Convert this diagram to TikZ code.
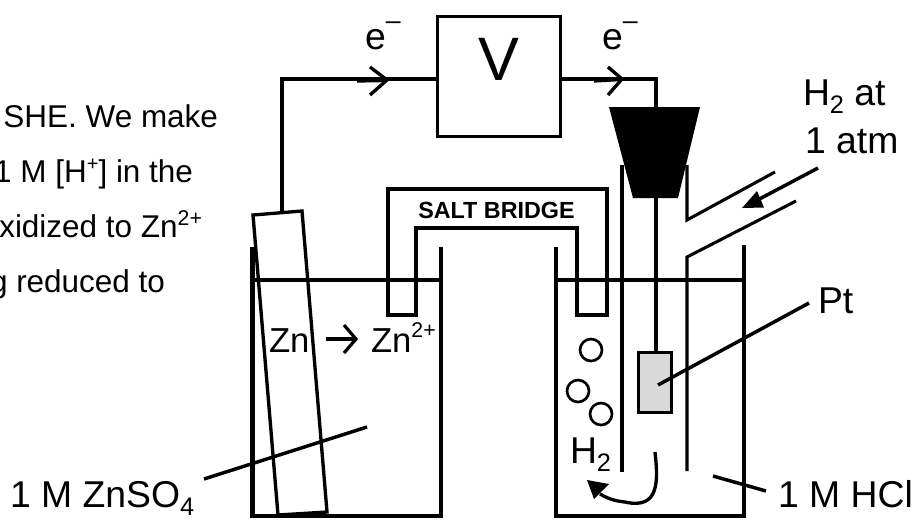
\documentclass[tikz,border=0pt]{standalone}
\usepackage{fontspec}
\setmainfont{Liberation Sans}
\usetikzlibrary{arrows.meta}
\newcommand\fsz[1]{\fontsize{#1pt}{#1pt}\selectfont}
\newcommand\lowr[1]{\raisebox{-.24em}{\fsz{19}#1}}
\newcommand\highr[1]{\raisebox{.42em}{\fsz{16}#1}}
\tikzset{
  wall/.style={line width=3.5pt,line join=miter},
  wire/.style={line width=2.5pt,line join=miter},
  tube/.style={line width=2.3pt},
  thinline/.style={line width=2.6pt},
  lbl/.style={inner sep=0pt,outer sep=0pt,anchor=base west,font=\fsz{28}},
  para/.style={inner sep=0pt,outer sep=0pt,anchor=base east,font=\fsz{23.6}},
  bubble/.style={circle,draw,line width=2pt,minimum size=16.5pt,inner sep=0pt},
  chev/.style={line width=2.5pt,line join=miter},
  voltbox/.style={draw,line width=2.6pt,minimum width=94.5pt-2.6pt,minimum height=92.25pt-2.6pt,inner sep=0pt,outer sep=0pt},
}
\begin{document}
\begin{tikzpicture}[x=0.75pt,y=-0.75pt]
\useasboundingbox (0,0) rectangle (919,519);
% left text
\node[para] (p1) at (218,127) {SHE. We make};
\node[para] (p2) at (193,182) {1 M [H\raisebox{.38em}{\fsz{15}+}] in the};
\node[para] (p3) at (202,237) {xidized to Zn\raisebox{.38em}{\fsz{16}2+}};
\node[para] (p4) at (165,292) {g reduced to};
% voltmeter
\node[voltbox] (V) at (499,76.5) {};
\node[inner sep=0pt,outer sep=0pt,anchor=base,font=\fsz{46}] (Vt) at (499,80) {V};
% wires
\coordinate (znTop) at (282,212);
\coordinate (bendL) at (282,79);
\coordinate (bendR) at (656,79);
\coordinate (stopTop) at (656,107);
\draw[wire] (znTop) -- (bendL) -- (bendL -| V.west);
\draw[wire] (bendR -| V.east) -- (bendR) -- (stopTop);
\coordinate (tipL) at (387,80);
\coordinate (tipR) at (622,79);
\draw[chev] (370,67) -- (tipL) -- (370,95);
\draw[chev] (608,67) -- (tipR) -- (608,95);
\draw[line width=3.2pt] (357,80.5) -- (tipL);
\draw[line width=3.2pt] (594,80.5) -- (tipR);
\node[lbl] (e1) at (365,49) {e\raisebox{.52em}{\fsz{20}–}};
\node[lbl] (e2) at (602,49) {e\raisebox{.52em}{\fsz{20}–}};
% left beaker
\draw[wall] (252.5,247) -- (252.5,516) -- (441,516) -- (441,247);
\draw[wall] (252.5,280) -- (441,280);
% right beaker
\draw[wall] (556,247) -- (556,516) -- (744,516) -- (744,245);
\draw[wall] (556,280) -- (744,280);
% salt bridge
\draw[wall] (388,315) -- (388,189) -- (607,189) -- (607,315) -- (577,315) -- (577,228) -- (416,228) -- (416,315) -- cycle;
\node[inner sep=0pt,outer sep=0pt,anchor=base,font=\fsz{17.5}\bfseries] (sb) at (496.5,218) {SALT BRIDGE};
% Zn electrode
\draw[wire] (253,215) -- (302,211) -- (327,512) -- (278,515) -- cycle;
\node[lbl,font=\fsz{26}] (zn) at (269,352) {Zn};
\node[lbl,font=\fsz{26}] (znp) at (371,352) {Zn\highr{2+}};
\coordinate (rxA) at (326,339);
\draw[line width=2.4pt,line join=miter] (rxA) -- (356,339);
\draw[line width=2.4pt,line join=miter] (344,325) -- (356,339) -- (344,353);
\node[lbl] (znso) at (10,507) {1 M ZnSO\lowr{4}};
\coordinate (zsA) at (204,479);
\coordinate (zsB) at (367,427);
\draw[thinline] (zsA) -- (zsB);
% hydrogen electrode
\coordinate (tubeLT) at (622,165);
\coordinate (tubeLB) at (622,472);
\coordinate (tubeRT) at (687,165);
\coordinate (neckA) at (687,220);
\coordinate (neckB) at (775,172);
\coordinate (neckC) at (796,201);
\coordinate (neckD) at (687,257);
\coordinate (tubeRB) at (687,471);
\draw[tube] (tubeLT) -- (tubeLB);
\draw[tube,line join=miter] (tubeRT) -- (neckA) -- (neckB);
\draw[tube,line join=miter] (neckC) -- (neckD) -- (tubeRB);
\fill (609,107) -- (700,107) -- (678,198) -- (633,198) -- cycle;
\node[draw,fill=black!15,line width=2pt,minimum width=27pt-2pt,minimum height=47.25pt-2pt,inner sep=0pt,outer sep=0pt] (Pt) at (655,382.5) {};
\draw[wire] (656,198) -- (Pt.north -| 656,0);
\coordinate (ptA) at (658,385);
\coordinate (ptB) at (809,303);
\draw[thinline] (ptA) -- (ptB);
\node[lbl] (ptl) at (818,313) {Pt};
% gas inlet
\coordinate (gasA) at (818,168);
\coordinate (gasB) at (750,204);
\draw[thinline] (gasA) -- (gasB);
\fill (742,208) -- (757,191) -- (764,207.5) -- cycle;
\node[lbl] (h2a) at (803,105) {H\lowr{2} at};
\node[lbl] (atm) at (805,153) {1 atm};
% bubbles
\node[bubble] (b1) at (591,350) {};
\node[bubble] (b2) at (578,391) {};
\node[bubble] (b3) at (601,414) {};
\node[lbl] (h2b) at (570,463) {H\lowr{2}};
% swirl
\coordinate (swA) at (655,452);
\coordinate (swB) at (600,494);
\draw[line width=2.5pt] (swA) .. controls (658,480) and (660,510) .. (625,502) .. controls (614,501) and (607,498) .. (swB);
\fill (587,480) -- (609,484) -- (594,499) -- cycle;
% HCl
\node[lbl] (hcl) at (778,507) {1 M HCl};
\coordinate (hA) at (713,476);
\coordinate (hB) at (766,491);
\draw[thinline] (hA) -- (hB);
\end{tikzpicture}
\end{document}
